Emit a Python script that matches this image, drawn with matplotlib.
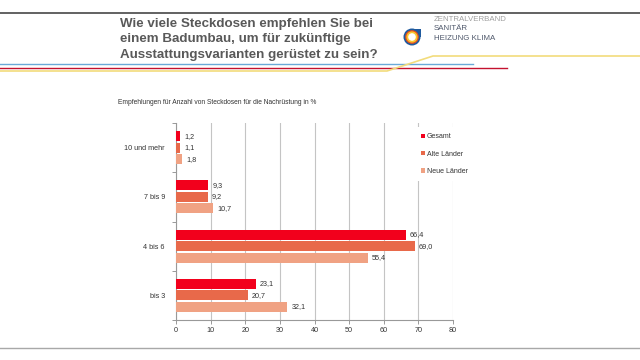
import matplotlib.pyplot as plt
from matplotlib.patches import Circle, Rectangle

# Daten
kategorien = ["bis 3", "4 bis 6", "7 bis 9", "10 und mehr"]
gesamt = [23.1, 66.4, 9.3, 1.2]
alte_laender = [20.7, 69.0, 9.2, 1.1]
neue_laender = [32.1, 55.4, 10.7, 1.8]
serien = ["Gesamt", "Alte Länder", "Neue Länder"]
x_ticks = [0, 10, 20, 30, 40, 50, 60, 70, 80]

farben = ["#f2001c", "#e8694a", "#f0a283"]
titel = ["Wie viele Steckdosen empfehlen Sie bei",
         "einem Badumbau, um für zukünftige",
         "Ausstattungsvarianten gerüstet zu sein?"]
untertitel = "Empfehlungen für Anzahl von Steckdosen für die Nachrüstung in %"

plt.rcParams['font.family'] = ['Liberation Sans', 'DejaVu Sans']

fig = plt.figure(figsize=(6.4, 3.6), dpi=100)

# Hintergrund-Ebene in Pixelkoordinaten
bg = fig.add_axes([0, 0, 1, 1])
bg.set_xlim(0, 640)
bg.set_ylim(360, 0)
bg.axis("off")

bg.plot([0, 640], [13, 13], color="#555555", lw=1.3)
bg.plot([0, 473], [64, 64], color="#6aaad8", lw=1.0)
bg.plot([0, 507], [68, 68], color="#c4122f", lw=1.0)
bg.plot([0, 387, 433, 640], [71, 71, 56, 56], color="#f2dc7c", lw=1.2)
bg.plot([0, 640], [348, 348], color="#a8a8a8", lw=1.0)

for i, t in enumerate(titel):
    bg.text(120, 24 + i * 15.3, t, fontsize=9.6, fontweight="bold",
            color="#595959", va="center", ha="left")

# Logo
cx, cy = 412, 37
bg.add_patch(Rectangle((cx, cy - 8.5), 8.5, 8.5, color="#1f5a9e", lw=0))
bg.add_patch(Circle((cx, cy), 8.5, color="#1f5a9e", lw=0))
bg.add_patch(Circle((cx, cy), 6.8, color="#e8501c", lw=0))
bg.add_patch(Circle((cx, cy), 5.6, color="#f9c630", lw=0))
bg.add_patch(Circle((cx, cy), 3.8, color="white", lw=0))
bg.text(434, 19.5, "ZENTRALVERBAND", fontsize=5.7, color="#a0a0a0", va="center")
bg.text(434, 29, "SANITÄR", fontsize=5.7, color="#4f586b", va="center")
bg.text(434, 38, "HEIZUNG KLIMA", fontsize=5.7, color="#4f586b", va="center")

bg.text(118, 103, untertitel, fontsize=4.8, color="#333333", va="center")

# Diagramm
ax = fig.add_axes([176 / 640, 1 - 320 / 360, 277 / 640, 197 / 360])
hoehe = 0.205
abstand = 0.234
werte = [gesamt, alte_laender, neue_laender]
for k in range(3):
    pos = [i + abstand * (1 - k) for i in range(len(kategorien))]
    ax.barh(pos, werte[k], height=hoehe, color=farben[k], label=serien[k], zorder=3)
    for p, v in zip(pos, werte[k]):
        ax.text(v + 1.2, p, ("%.1f" % v).replace(".", ","), fontsize=5.2,
                color="#333333", va="center", ha="left", zorder=4)

ax.set_xlim(0, 80)
ax.set_ylim(-0.5, 3.5)
ax.set_xticks(x_ticks)
ax.set_xticklabels([str(x) for x in x_ticks], fontsize=5.2, color="#333333")
ax.set_yticks(range(len(kategorien)))
ax.set_yticklabels(kategorien, fontsize=5.2, color="#333333")
ax.tick_params(axis="y", length=0, pad=8)
ax.set_yticks([-0.5, 0.5, 1.5, 2.5, 3.5], minor=True)
ax.tick_params(axis="y", which="minor", length=3, color="#999999", width=0.7)
ax.tick_params(axis="x", length=3, color="#999999", width=0.7, pad=2)
ax.xaxis.grid(True, color="#c4c4c4", lw=0.8, zorder=0)
ax.set_axisbelow(True)
for s in ["top", "right"]:
    ax.spines[s].set_visible(False)
for s in ["left", "bottom"]:
    ax.spines[s].set_color("#999999")
    ax.spines[s].set_linewidth(0.8)

leg = ax.legend(loc="upper left", bbox_to_anchor=(0.848, 0.997), fontsize=5.0,
                frameon=True, facecolor="white", edgecolor="none", framealpha=1,
                handlelength=0.6, handleheight=0.6, handletextpad=0.3,
                labelspacing=1.5, borderpad=0.9)
for t in leg.get_texts():
    t.set_color("#333333")

fig.savefig("out.png", dpi=100)
